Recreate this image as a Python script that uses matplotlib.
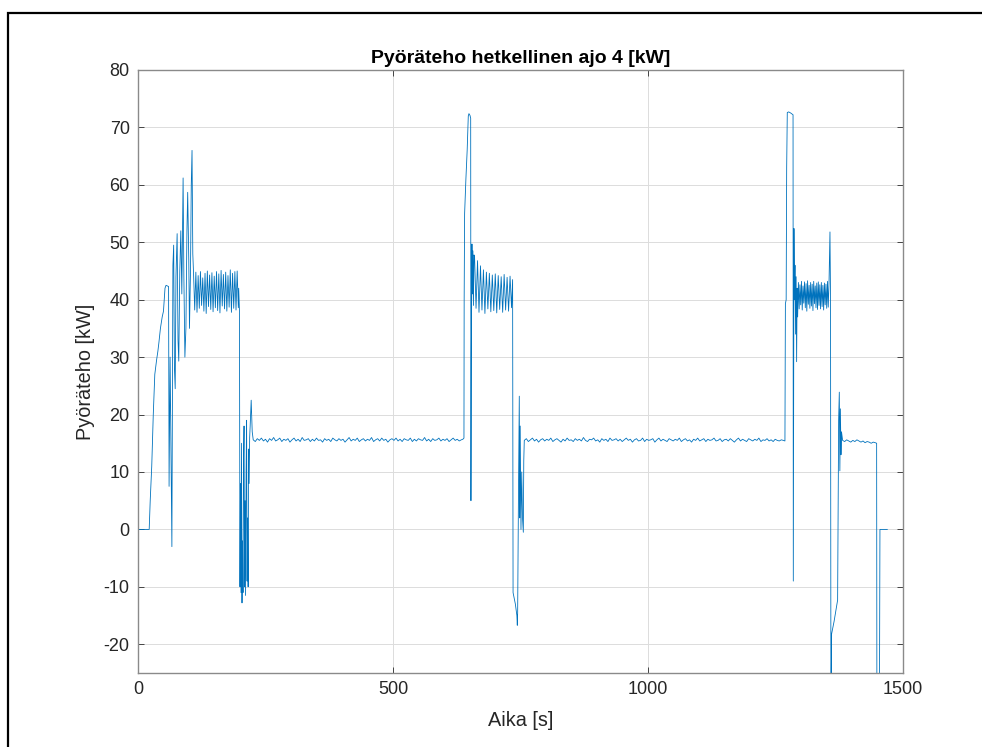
import numpy as np
import matplotlib.pyplot as plt
from matplotlib.patches import Rectangle

# --- wheel power log, drive 4 -------------------------------------------------
# Irregular parts are stored as (time, kW) pairs; the steady and oscillating
# stretches were logged at a fixed rate and are stored as value lists.

start_t = [0, 22, 24, 27, 30, 33, 36.5, 39, 41, 44, 47.5, 50, 53, 55, 60, 61,
           63, 66.5, 67.5, 68.5, 70, 71.5, 73, 74.5, 76.8, 78.5, 80, 82, 84,
           86, 88.5, 90, 92, 94, 96, 97.5, 99.6, 101, 103, 104.5, 106, 107.5]
start_kw = [0, 0, 5, 11, 20, 27, 29.5, 31, 32.5, 35, 37, 38, 42, 42.5, 42.3,
            7.5, 30, -3, 20, 46, 49.5, 28, 24.5, 44, 51.5, 33, 29.3, 45, 52,
            41, 61.2, 44, 30, 35, 52, 58.7, 47, 35, 45, 60, 66, 48]

band1_start, band1_step = 109.0, 2.25
band1_kw = [44.5, 38.2, 44.8, 37.8, 44.2, 38.5, 44.9, 39.0, 43.8, 38.0,
            44.6, 37.6, 45.0, 38.8, 44.3, 38.3, 44.7, 37.9, 44.1, 38.6,
            44.9, 38.1, 44.5, 37.7, 45.1, 38.9, 44.4, 38.4, 44.8, 38.0,
            44.2, 38.7, 45.2, 37.8, 44.6, 38.5, 44.9, 38.2, 45.0, 38.6]

drop1_t = [197.5, 199, 200, 201, 202, 203, 204, 205, 206, 207, 208, 209, 210,
           211, 212, 213, 214, 215, 216, 217, 218, 219, 220, 222, 224]
drop1_kw = [42, 38, -10, 8, -11, 15, -12.8, -2, -11, 12, 18, -10, 5, -11.5,
            10, 19, -9, 2, -10, 14, 8, 16, 18, 22.5, 17]

flat1_start, flat1_step = 226.0, 4.0
flat1_kw = [15.6, 15.3, 15.8, 15.5, 15.9, 15.4, 15.7, 15.2, 15.8, 15.5,
            16.0, 15.4, 15.6, 15.9, 15.3, 15.7, 15.5, 15.8, 15.2, 15.6,
            15.9, 15.4, 15.7, 15.3, 16.0, 15.5, 15.6, 15.8, 15.3, 15.7,
            15.4, 15.9, 15.5, 15.6, 15.2, 15.8, 15.5, 15.7, 15.3, 15.9,
            15.6, 15.4, 15.8, 15.5, 15.7, 15.2, 15.6, 16.0, 15.4, 15.7,
            15.5, 15.9, 15.3, 15.6, 15.8, 15.4, 15.7, 15.5, 16.0, 15.3,
            15.6, 15.8, 15.4, 15.9, 15.5, 15.7, 15.2, 15.6, 15.8, 15.5,
            15.9, 15.4, 15.7, 15.3, 15.8, 15.6, 15.5, 15.9, 15.3, 15.7,
            15.4, 15.8, 15.6, 15.5, 16.0, 15.4, 15.7, 15.3, 15.8, 15.5,
            15.6, 15.9, 15.4, 15.7, 15.5, 15.8, 15.3, 15.6, 15.9, 15.5,
            15.7, 15.4, 15.6]

peak2_t = [637, 639.2, 639.6, 640.5, 643, 645.5, 647.7, 649, 651, 652.4,
           652.9, 653.6, 654.9, 655.8, 656.8, 657.8, 658.8]
peak2_kw = [15.7, 15.9, 40, 55, 61, 66, 72.0, 72.4, 72.1, 71.6, 5.0, 30,
            49.7, 41, 48.5, 39, 47.8]

band2_start, band2_step = 660.0, 2.9
band2_kw = [47.5, 38.5, 46.8, 37.8, 45.9, 38.2, 45.2, 37.6, 44.8, 38.4,
            44.6, 37.9, 44.3, 38.1, 44.5, 37.7, 44.2, 38.3, 44.0, 37.8,
            44.4, 38.2, 43.9, 38.0, 44.1, 38.6]

drop2_t = [734.6, 735.5, 740, 743, 743.8, 744.5, 746, 747.7, 748.5, 749.5,
           751, 752.5, 754, 755.6, 756.5]
drop2_kw = [43.5, -11, -13, -15, -16.7, -14.5, 5, 23.2, 2, 18, 0, 10, 2,
            -0.5, 12]

flat2_start, flat2_step = 757.5, 4.0
flat2_kw = [15.5, 15.8, 15.3, 15.6, 15.9, 15.4, 15.7, 15.2, 15.6, 15.8,
            15.4, 15.7, 15.5, 15.9, 15.3, 15.6, 15.8, 15.5, 15.2, 15.7,
            15.4, 15.9, 15.5, 15.6, 15.3, 15.8, 15.5, 15.7, 15.4, 16.0,
            15.5, 15.3, 15.7, 15.6, 15.9, 15.4, 15.6, 15.2, 15.8, 15.5,
            15.7, 15.3, 15.9, 15.5, 15.6, 15.8, 15.4, 15.7, 15.3, 15.6,
            15.9, 15.5, 15.7, 15.2, 15.6, 15.8, 15.4, 15.5, 15.9, 15.3,
            15.7, 15.5, 15.6, 15.8, 15.2, 15.6, 15.9, 15.4, 15.7, 15.5,
            15.3, 15.8, 15.6, 15.4, 15.7, 15.5, 15.9, 15.3, 15.6, 15.8,
            15.4, 15.6, 15.2, 15.7, 15.5, 15.9, 15.4, 15.6, 15.8, 15.3,
            15.7, 15.5, 15.6, 15.9, 15.4, 15.5, 15.8, 15.3, 15.6, 15.7,
            15.4, 15.8, 15.5, 15.2, 15.6, 15.9, 15.4, 15.7, 15.5, 15.3,
            15.8, 15.6, 15.4, 15.7, 15.5, 15.9, 15.3, 15.6, 15.5, 15.8,
            15.4, 15.6, 15.3, 15.7, 15.5, 15.4, 15.6, 15.5]

peak3_t = [1268.6, 1269.5, 1271, 1272, 1273.2, 1276, 1280, 1284.5, 1285,
           1286.3, 1287.3, 1288.3, 1289.5, 1290.5, 1291.5, 1292.5, 1293.5]
peak3_kw = [15.4, 39.3, 40, 63, 72.6, 72.7, 72.5, 72.2, -9.0, 52.4, 40, 46,
            34, 44, 29.2, 42, 37]

band3_start, band3_step = 1295.0, 1.5
band3_kw = [43.0, 38.4, 42.6, 39.1, 43.2, 38.2, 42.4, 39.4, 43.1, 38.6,
            42.8, 38.0, 43.3, 39.2, 42.5, 38.5, 43.0, 38.9, 42.7, 38.1,
            43.2, 39.3, 42.4, 38.6, 42.9, 38.3, 43.1, 39.0, 42.6, 38.4,
            43.0, 38.8, 42.5, 38.2, 42.9, 39.1, 42.7, 38.5, 43.2, 38.7,
            42.8]

drop3_t = [1356.9, 1358, 1358.8, 1360.1, 1365, 1371.9, 1373.9, 1375.2,
           1376.3, 1377.3, 1378.5, 1379.5]
drop3_kw = [51.8, 40, -35, -18.2, -16, -12.3, 19.1, 23.9, 10.2, 21, 13, 17]

flat3_start, flat3_step = 1381.7, 4.0
flat3_kw = [15.5, 15.3, 15.6, 15.4, 15.2, 15.5, 15.3, 15.6, 15.4, 15.2,
            15.4, 15.1, 15.3, 15.2, 15.0, 15.2, 15.1]

end_t = [1448.4, 1449, 1453.6, 1454.9, 1469.3]
end_kw = [15.0, -40, -40, 0, 0]


def sampled(start, step, values):
    """Time stamps for a stretch logged at a fixed rate."""
    return start + step * np.arange(len(values))


def build_series():
    pieces = [
        (np.array(start_t), start_kw),
        (sampled(band1_start, band1_step, band1_kw), band1_kw),
        (np.array(drop1_t), drop1_kw),
        (sampled(flat1_start, flat1_step, flat1_kw), flat1_kw),
        (np.array(peak2_t), peak2_kw),
        (sampled(band2_start, band2_step, band2_kw), band2_kw),
        (np.array(drop2_t), drop2_kw),
        (sampled(flat2_start, flat2_step, flat2_kw), flat2_kw),
        (np.array(peak3_t), peak3_kw),
        (sampled(band3_start, band3_step, band3_kw), band3_kw),
        (np.array(drop3_t), drop3_kw),
        (sampled(flat3_start, flat3_step, flat3_kw), flat3_kw),
        (np.array(end_t), end_kw),
    ]
    t = np.concatenate([p[0] for p in pieces])
    kw = np.concatenate([np.asarray(p[1], dtype=float) for p in pieces])
    return t, kw


def main() -> None:
    plt.rcParams["font.family"] = ["Liberation Sans", "DejaVu Sans"]
    plt.rcParams["axes.unicode_minus"] = False
    t, kw = build_series()

    fig = plt.figure(figsize=(9.82, 7.47), dpi=100)
    ax = fig.add_axes([0.1405, 0.0991, 0.7790, 0.8072])

    ax.plot(t, kw, color="#0072BD", linewidth=0.6)

    ax.set_xlim(0, 1500)
    ax.set_ylim(-25, 80)
    ax.set_xticks([0, 500, 1000, 1500])
    ax.set_yticks(np.arange(-20, 81, 10))

    ax.grid(True, color="#dcdcdc", linewidth=0.7)
    ax.set_axisbelow(True)
    for spine in ax.spines.values():
        spine.set_color("#8a8a8a")
        spine.set_linewidth(1.0)
    ax.tick_params(direction="in", length=4, width=0.7, color="#444444",
                   top=True, right=True, labelsize=13, labelcolor="#262626",
                   pad=6)

    ax.set_title("Pyöräteho hetkellinen ajo 4 [kW]", fontsize=14,
                 fontweight="bold", pad=5)
    ax.set_xlabel("Aika [s]", fontsize=14.3, color="#262626", labelpad=9)
    ax.set_ylabel("Pyöräteho [kW]", fontsize=14.3, color="#262626",
                  labelpad=6)

    # black frame around the figure window
    fig.add_artist(Rectangle((8 / 982, -0.1), 1.2, 0.1 + (1 - 13 / 747),
                             transform=fig.transFigure, fill=False,
                             edgecolor="black", linewidth=1.6))

    fig.savefig("out.png", dpi=100)


if __name__ == "__main__":
    main()
